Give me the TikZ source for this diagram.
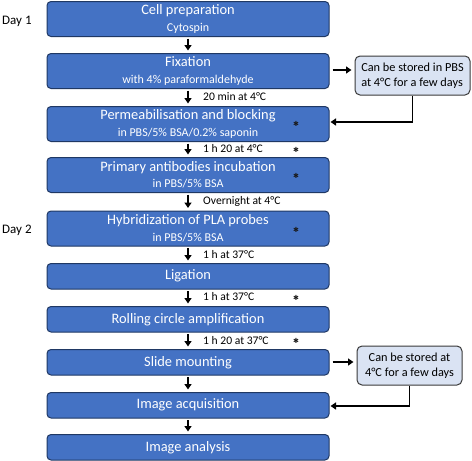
\documentclass[tikz,border=0pt]{standalone}
\usepackage{fontspec}
\setmainfont{Carlito}
\newfontfamily\symfont{DejaVu Sans}
\usetikzlibrary{arrows.meta}
\definecolor{boxblue}{HTML}{4472C4}
\definecolor{boxedge}{HTML}{1F3864}
\definecolor{sidefill}{HTML}{DAE3F3}
\definecolor{sideedge}{HTML}{3A3A3A}
\newcommand{\ttl}[1]{{\fontsize{14.4}{16}\selectfont #1}}
\newcommand{\sbt}[1]{{\fontsize{12}{14}\selectfont #1}}
\begin{document}
\begin{tikzpicture}[x=1pt,y=-1pt,
  stepbox/.style={draw=boxedge, fill=boxblue, line width=1pt, rounded corners=4pt,
    minimum width=282pt, text=white, align=center, inner sep=0pt, anchor=north},
  twoline/.style={stepbox, minimum height=35pt, font=\fontsize{12}{16.5}\selectfont},
  oneline/.style={stepbox, minimum height=25.5pt, font=\fontsize{14.4}{16}\selectfont},
  sidebox/.style={draw=sideedge, fill=sidefill, line width=1pt, rounded corners=5pt,
    inner sep=0pt, font=\fontsize{12.3}{15}\selectfont},
  lab/.style={anchor=west, inner sep=0pt, font=\fontsize{11.6}{13}\selectfont},
  daylab/.style={anchor=west, inner sep=0pt, font=\fontsize{13}{15}\selectfont},
  star/.style={inner sep=0pt, font=\symfont\fontsize{7}{7}\selectfont, text=black!90},
  arr/.style={-{Triangle[width=7pt,length=5.5pt]}, line width=1.3pt, black},
  vstep/.style={arr, shorten <=1.5pt, shorten >=2.5pt}
]
\useasboundingbox (0,0) rectangle (472,461);

% main boxes
\node[twoline] (b1) at (188,1) {\ttl{Cell preparation}\\\sbt{Cytospin}};
\node[twoline] (b2) at (188,53) {\ttl{Fixation}\\\sbt{with 4\% paraformaldehyde}};
\node[twoline] (b3) at (188,106) {\ttl{Permeabilisation and blocking}\\\sbt{in PBS/5\% BSA/0.2\% saponin}};
\node[twoline] (b4) at (188,157) {\ttl{Primary antibodies incubation}\\\sbt{in PBS/5\% BSA}};
\node[twoline] (b5) at (188,210.5) {\ttl{Hybridization of PLA probes}\\\sbt{in PBS/5\% BSA}};
\node[oneline] (b6) at (188,263) {Ligation};
\node[oneline] (b7) at (188,306) {Rolling circle amplification};
\node[oneline] (b8) at (188,349) {Slide mounting};
\node[oneline] (b9) at (188,392) {Image acquisition};
\node[oneline] (b10) at (188,434) {Image analysis};

% vertical arrows
\draw[vstep] (b1) -- (b2);
\draw[vstep] (b2) -- (b3);
\draw[vstep] (b3) -- (b4);
\draw[vstep] (b4) -- (b5);
\draw[vstep] (b5) -- (b6);
\draw[vstep] (b6) -- (b7);
\draw[vstep] (b7) -- (b8);
\draw[vstep] (b8) -- (b9);
\draw[vstep] (b9) -- (b10);

% step labels
\node[lab] (l1) at (203,97) {20 min at 4°C};
\node[lab] (l2) at (203,149) {1 h 20 at 4°C};
\node[lab] (l3) at (203,201) {Overnight at 4°C};
\node[lab] (l4) at (203,254.5) {1 h at 37°C};
\node[lab] (l5) at (203,297) {1 h at 37°C};
\node[lab] (l6) at (203,340.5) {1 h 20 at 37°C};

% asterisks
\node[star] (a1) at (296,124) {✱};
\node[star] (a2) at (296,149.5) {✱};
\node[star] (a3) at (296,176) {✱};
\node[star] (a4) at (296,230) {✱};
\node[star] (a5) at (296,298) {✱};
\node[star] (a6) at (296,341) {✱};

% day labels
\node[daylab] (d1) at (2,21) {Day 1};
\node[daylab] (d2) at (2,230) {Day 2};

% side boxes
\node[sidebox, minimum width=115pt, minimum height=39pt, align=left] (s1) at (412.5,75.5)
  {Can be stored in PBS\\at 4°C for a few days};
\node[sidebox, minimum width=105pt, minimum height=39pt, align=center] (s2) at (409.5,365.5)
  {Can be stored at\\4°C for a few days};

\draw[arr, shorten <=3pt, shorten >=3pt] (b2.east |- 0,70) -- (s1.west |- 0,70);
\draw[arr, shorten >=1pt] (s1.south) |- (b3.east |- 0,122);
\draw[arr, shorten <=3pt, shorten >=3pt] (b8.east |- 0,362) -- (s2.west |- 0,362);
\draw[arr, shorten >=1pt] (s2.south) |- (b9.east |- 0,406);
\end{tikzpicture}
\end{document}
